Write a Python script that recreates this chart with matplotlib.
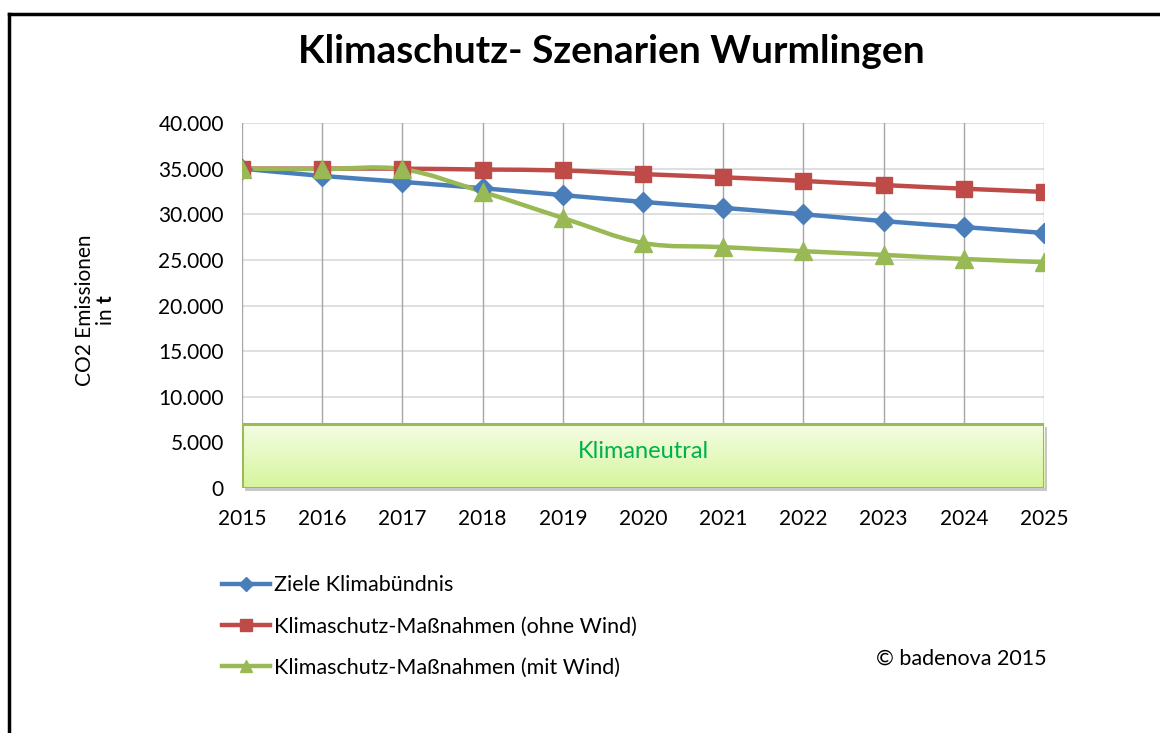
import numpy as np
import matplotlib
matplotlib.use("Agg")
import matplotlib.pyplot as plt
from matplotlib.path import Path
from matplotlib.patches import PathPatch, Rectangle
from matplotlib.lines import Line2D
from matplotlib.ticker import FuncFormatter
from matplotlib.transforms import offset_copy

plt.rcParams["font.family"] = ["Lato", "DejaVu Sans"]
plt.rcParams["mathtext.fontset"] = "custom"
plt.rcParams["mathtext.rm"] = "Lato"
plt.rcParams["mathtext.bf"] = "Lato:bold"

# -----------------------------
# Data
# -----------------------------
years = [2015, 2016, 2017, 2018, 2019, 2020, 2021, 2022, 2023, 2024, 2025]
ziele = [35000, 34200, 33550, 32850, 32100, 31350, 30700, 30000, 29250, 28600, 27950]
ohne_wind = [35000, 35000, 35000, 34900, 34800, 34400, 34050, 33650, 33200, 32800, 32450]
mit_wind = [35000, 34950, 34950, 32450, 29600, 26850, 26400, 25950, 25550, 25100, 24750]

labels = ["Ziele Klimabündnis",
          "Klimaschutz-Maßnahmen (ohne Wind)",
          "Klimaschutz-Maßnahmen (mit Wind)"]
colors = ["#4a7ebb", "#be4b48", "#98b954"]
markers = ["D", "s", "^"]
msizes = [10, 12, 13]

klimaneutral_top = 7000
y_ticks = [0, 5000, 10000, 15000, 20000, 25000, 30000, 35000, 40000]


def smooth_path(x, y):
    # Catmull-Rom style bezier segments (like Excel "smoothed line")
    x = np.asarray(x, float)
    y = np.asarray(y, float)
    verts = [(x[0], y[0])]
    codes = [Path.MOVETO]
    n = len(x)
    for i in range(n - 1):
        i0 = max(i - 1, 0)
        i3 = min(i + 2, n - 1)
        c1 = (x[i] + (x[i + 1] - x[i0]) / 6, y[i] + (y[i + 1] - y[i0]) / 6)
        c2 = (x[i + 1] - (x[i3] - x[i]) / 6, y[i + 1] - (y[i3] - y[i]) / 6)
        verts += [c1, c2, (x[i + 1], y[i + 1])]
        codes += [Path.CURVE4] * 3
    return Path(verts, codes)


fig = plt.figure(figsize=(11.6, 7.33), dpi=100)
ax = fig.add_axes([0.2086, 0.3342, 0.6914, 0.4980])

# frame of the whole picture (top and left only visible)
fig.add_artist(Line2D([0.0075, 1.0], [0.9815, 0.9815], color="black", lw=2.5,
                      transform=fig.transFigure))
fig.add_artist(Line2D([0.0075, 0.0075], [0.0, 0.9815], color="black", lw=2.5,
                      transform=fig.transFigure))

# grid
for yv in y_ticks[1:]:
    ax.axhline(yv, color="#d9d9d9", lw=1.2, zorder=0)
for xv in years:
    ax.axvline(xv, color="#a6a6a6", lw=1.0, zorder=0)
ax.axhline(0, color="#a6a6a6", lw=1.2, zorder=0)

# Klimaneutral box with shadow
shadow = Rectangle((years[0], 0), years[-1] - years[0], klimaneutral_top,
                   facecolor="#b0b0b0", edgecolor="none", alpha=0.7, zorder=1.5,
                   transform=offset_copy(ax.transData, fig=fig, x=3, y=-3, units="dots"),
                   clip_on=False)
ax.add_patch(shadow)
grad = np.linspace(0, 1, 100).reshape(-1, 1)
cmap = matplotlib.colors.LinearSegmentedColormap.from_list("g", ["#d6f59c", "#f4fde4"])
ax.imshow(grad, extent=[years[0], years[-1], 0, klimaneutral_top], origin="lower",
          aspect="auto", cmap=cmap, zorder=2)
box = Rectangle((years[0], 0), years[-1] - years[0], klimaneutral_top,
                facecolor="none", edgecolor="#9bbb59", lw=2.2, zorder=3)
ax.add_patch(box)
ax.text((years[0] + years[-1]) / 2, 4000, "Klimaneutral", color="#00b050",
        fontsize=17, ha="center", va="center", zorder=4)

# series
handles = []
for vals, c, m, ms, lab in zip([ziele, ohne_wind, mit_wind], colors, markers, msizes, labels):
    ax.add_patch(PathPatch(smooth_path(years, vals), facecolor="none", edgecolor=c,
                           lw=3.2, zorder=5, capstyle="round", joinstyle="round"))
    ax.plot(years, vals, linestyle="none", marker=m, color=c, markersize=ms, zorder=6)
    handles.append(Line2D([0], [0], color=c, lw=3.2, marker=m, markersize=ms * 0.7, label=lab))

ax.set_xlim(years[0], years[-1])
ax.set_ylim(0, 40000)
ax.set_xticks(years)
ax.set_yticks(y_ticks)
ax.yaxis.set_major_formatter(FuncFormatter(lambda v, p: f"{int(v):,}".replace(",", ".")))
ax.tick_params(axis="both", length=0, labelsize=15, colors="#000000")
ax.tick_params(axis="y", pad=13)
ax.tick_params(axis="x", pad=15)
for s in ax.spines.values():
    s.set_visible(False)

# title and axis label
fig.text(0.527, 0.930, "Klimaschutz- Szenarien Wurmlingen", fontsize=28,
         fontweight="bold", ha="center", va="center")
fig.text(0.0825, 0.577, "CO2 Emissionen\nin $\\mathbf{t}$", rotation=90, fontsize=15,
         ha="center", va="center", multialignment="center", linespacing=1.05)

# legend
fig.legend(handles=handles, loc="upper left", bbox_to_anchor=(0.191, 0.215),
           frameon=False, fontsize=15.5, handlelength=2.25, handletextpad=0.2,
           labelspacing=0.98, borderpad=0, borderaxespad=0)

fig.text(0.755, 0.101, "© badenova 2015", fontsize=15.5, ha="left", va="center")

fig.savefig("out.png", dpi=100)
